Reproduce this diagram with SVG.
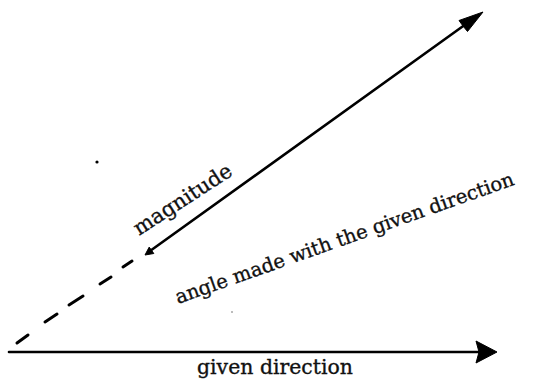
<svg xmlns="http://www.w3.org/2000/svg" width="535" height="385" viewBox="0 0 535 385">
<style>
.ln{stroke:#000;stroke-width:2.6;fill:none;stroke-linecap:round}
.ds{stroke:#000;stroke-width:3;fill:none;stroke-linecap:round}
.hd{fill:#000;stroke:#000;stroke-width:1;stroke-linejoin:round}
.lbl{font-family:"DejaVu Serif","Liberation Serif",serif;font-size:21px;fill:#111;stroke:#111;stroke-width:0.35}
</style>
<rect width="535" height="385" fill="#fff"/>
<g id="connectors">
<g id="given-direction-arrow">
<line class="ln" x1="9" y1="352" x2="480" y2="352"/>
<polygon class="hd" points="476,341 497,352 476,363 479,352"/>
</g>
<g id="vector-arrow">
<line class="ln" x1="150" y1="251" x2="466" y2="24"/>
<polygon class="hd" points="483,12 459,20.5 463,26 467.5,31.5"/>
<polygon class="hd" points="145,255 153.8,253.5 151.5,250.3 149.2,247.1"/>
</g>
<path id="extension-dashed" class="ds" d="M17 343 L28 335 M45 322 L57 314 M69 305 L83 296 M100 284 L111 277 M123 267 L132 261"/>
</g>
<g id="label-magnitude">
<text class="lbl" transform="translate(139,236) rotate(-33)" textLength="113" lengthAdjust="spacingAndGlyphs">magnitude</text>
</g>
<g id="label-angle">
<text class="lbl" style="font-size:19.5px" transform="translate(178,304) rotate(-19.5)" textLength="358" lengthAdjust="spacingAndGlyphs">angle made with the given direction</text>
</g>
<g id="label-given-direction">
<text class="lbl" x="197" y="374" textLength="156" lengthAdjust="spacingAndGlyphs">given direction</text>
</g>
<circle cx="97" cy="162" r="1.6" fill="#000"/>
<circle cx="232" cy="312" r="0.8" fill="#666"/>
</svg>
